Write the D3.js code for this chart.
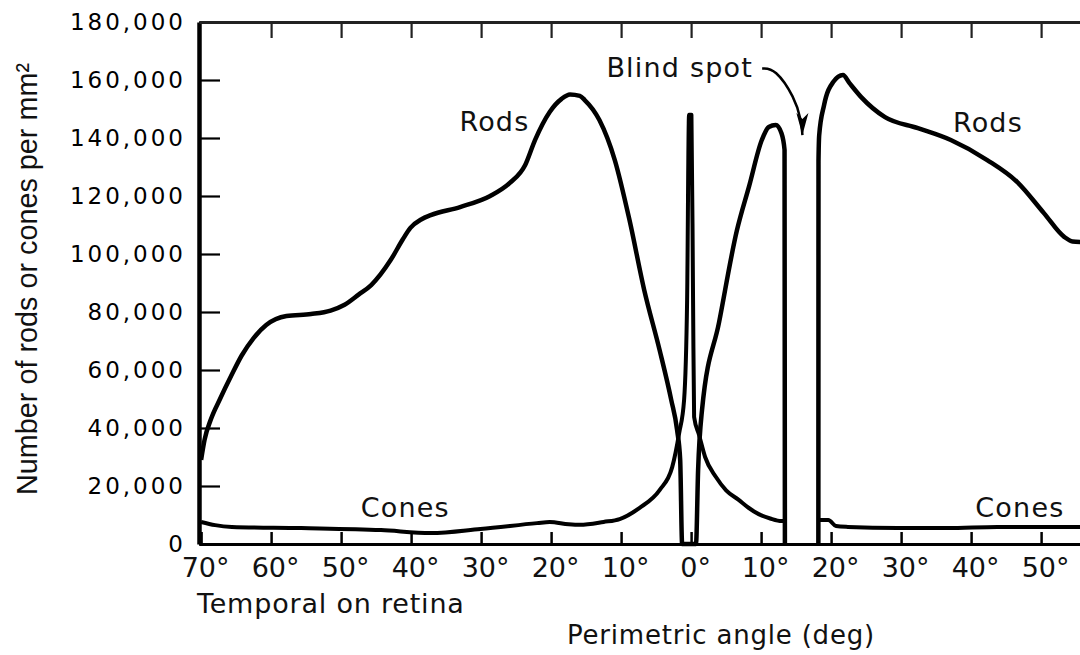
<!DOCTYPE html>
<html>
<head>
<meta charset="utf-8">
<script src="https://cdn.jsdelivr.net/npm/d3@7"></script>
<style>
  html, body { margin: 0; padding: 0; background: #fff; }
  svg { display: block; }
</style>
</head>
<body>
<svg id="chart" width="1080" height="655"></svg>
<script>
// ---- data (perimetric angle: negative = temporal, positive = nasal) ----
const rodsAngle = [-70, -69.5, -68.6, -67.3, -65.7, -64.2, -62.5, -60.7, -57.8, -54.3, -51.5, -49.5, -47.5, -45.7,
  -42.9, -41.2, -40.1, -38.5, -37.2, -33.0, -28.7, -25.9, -23.7, -22.3, -20.2, -18.5, -17.3, -15.9, -15.2, -13.1,
  -10.9, -8.8, -6.7, -4.5, -2.84, -2.0, -1.56, -1.28,
  0.7, 1.0, 1.56, 4.0, 6.53, 8.3, 10.1, 11.1, 12.1, 12.9, 13.35, 13.4,
  15.8,
  18.18, 18.2, 18.3, 19.0, 20.3, 21.7, 22.6, 24.3, 27.7, 32.4, 37.1, 42.3, 46.6, 50.4, 53.3, 54.5, 55.6];
const rodsDensity = [29000, 36000, 43000, 50000, 58000, 65000, 71000, 75500, 78600, 79300, 80500, 82500, 86000, 89300,
  98000, 105000, 109000, 112000, 113400, 116200, 120000, 124500, 130700, 139300, 149000, 153500, 155000, 154500, 153100, 146200,
  132400, 111700, 87600, 66900, 49700, 39300, 29000, 0,
  0, 25500, 46200, 76500, 108000, 123500, 139300, 143800, 144500, 141700, 135900, 0,
  null,
  0, 132000, 141000, 151400, 159300, 161700, 159000, 154100, 147200, 143400, 139300, 132400, 124800, 114100, 105900, 104300, 104100];

const conesAngle = [-70, -68, -65.6, -55.7, -44.3, -37.2, -30.1, -22, -20.2, -17.5, -15.9, -12.5, -10.2, -7.4, -4.5,
  -2.7, -1.7, -1.0, -0.57, -0.3, 0.05, 0.28, 0.43, 1.14, 2.0, 3.55, 5.0, 6.8, 8.2, 9.66, 11.3, 12.93, 13.35,
  15.8,
  18.2, 19.6, 20.7, 22.4, 29.5, 36.6, 43.75, 55.6];
const conesDensity = [7600, 6500, 5900, 5500, 4800, 3800, 5200, 7200, 7600, 6800, 6600, 7600, 8600, 12400, 18600,
  26500, 38300, 49700, 84000, 148000, 148000, 84000, 43800, 37600, 30000, 23100, 18500, 15200, 12500, 10300, 8800, 7900, 7900,
  null,
  8300, 8300, 6200, 5900, 5500, 5500, 5900, 5900];

const xTickValues = [-70, -60, -50, -40, -30, -20, -10, 0, 10, 20, 30, 40, 50];
const xTickLabels = ["70°", "60°", "50°", "40°", "30°", "20°", "10°", "0°", "10°", "20°", "30°", "40°", "50°"];
const yTickValues = [0, 20000, 40000, 60000, 80000, 100000, 120000, 140000, 160000, 180000];
const yTickLabels = ["0", "20,000", "40,000", "60,000", "80,000", "100,000", "120,000", "140,000", "160,000", "180,000"];

const curveLabels = ["Rods", "Rods", "Cones", "Cones", "Blind spot"];
const curveLabelAngle = [-33.1, 37.4, -47.2, 40.6, -12.1];
const curveLabelValue = [142400, 142000, 9300, 9300, 161000];

const arrowAngle = [10.15, 12.0, 14.8, 15.75, 15.9];
const arrowValue = [164000, 164000, 154000, 146000, 141000];

// ---- layout ----
const svg = d3.select("#chart");
const x = d3.scaleLinear().domain([-70.3, 60]).range([199, 199 + 130.3 * 7.0]);
const y = d3.scaleLinear().domain([0, 180000]).range([544, 22]);
const FONT = "'DejaVu Sans', sans-serif";

// axes
const gLeft = svg.append("g").attr("transform", `translate(${x(-70.3)},0)`)
  .call(d3.axisLeft(y).tickValues(yTickValues).tickFormat((d, i) => yTickLabels[i])
    .tickSizeInner(-21).tickSizeOuter(0).tickPadding(13));
gLeft.select(".domain").attr("stroke", "#000").attr("stroke-width", 4.5);
gLeft.selectAll(".tick line").attr("stroke", "#000").attr("stroke-width", 2.2);
gLeft.selectAll(".tick text").attr("font-family", FONT).attr("font-size", 23)
  .attr("letter-spacing", 3).attr("fill", "#000");

const gBottom = svg.append("g").attr("transform", `translate(0,${y(0)})`)
  .call(d3.axisBottom(x).tickValues(xTickValues).tickFormat((d, i) => xTickLabels[i])
    .tickSizeInner(-12).tickSizeOuter(0).tickPadding(14));
gBottom.select(".domain").attr("stroke", "#000").attr("stroke-width", 3);
gBottom.selectAll(".tick line").attr("stroke", "#000").attr("stroke-width", 2.5);
gBottom.selectAll(".tick text").attr("font-family", FONT).attr("font-size", 27)
  .attr("dx", 4).attr("fill", "#111");

const gTop = svg.append("g").attr("transform", `translate(0,${y(180000)})`)
  .call(d3.axisTop(x).tickValues(xTickValues.slice(1)).tickFormat("")
    .tickSizeInner(-16).tickSizeOuter(0));
gTop.select(".domain").attr("stroke", "#222").attr("stroke-width", 3);
gTop.selectAll(".tick line").attr("stroke", "#222").attr("stroke-width", 2.2);

// curves
const line = d3.line()
  .defined(d => d.v !== null)
  .x(d => x(d.a)).y(d => y(d.v))
  .curve(d3.curveMonotoneX);

const rods = rodsAngle.map((a, i) => ({ a, v: rodsDensity[i] }));
const cones = conesAngle.map((a, i) => ({ a, v: conesDensity[i] }));

svg.append("path").datum(cones).attr("d", line)
  .attr("fill", "none").attr("stroke", "#000").attr("stroke-width", 4)
  .attr("stroke-linejoin", "round");
svg.append("path").datum(rods).attr("d", line)
  .attr("fill", "none").attr("stroke", "#000").attr("stroke-width", 4.5)
  .attr("stroke-linejoin", "round");

// labels on the curves
svg.append("g").selectAll("text").data(curveLabels).join("text")
  .attr("x", (d, i) => x(curveLabelAngle[i]))
  .attr("y", (d, i) => y(curveLabelValue[i]))
  .attr("font-family", FONT).attr("font-size", 27)
  .attr("letter-spacing", 1.2).attr("fill", "#111")
  .text(d => d);

// blind spot arrow
const arrowPts = arrowAngle.map((a, i) => ({ a, v: arrowValue[i] }));
const arrowLine = d3.line().x(d => x(d.a)).y(d => y(d.v)).curve(d3.curveBasis);
svg.append("path").datum(arrowPts).attr("d", arrowLine)
  .attr("fill", "none").attr("stroke", "#000").attr("stroke-width", 2.5);
const tip = arrowPts[arrowPts.length - 1];
svg.append("path")
  .attr("transform", `translate(${x(tip.a)},${y(tip.v)})`)
  .attr("d", "M-6,-22 L0,0 L6,-22 L0,-16 Z").attr("fill", "#000");

// axis titles
svg.append("text")
  .attr("transform", "translate(37,495) rotate(-90)")
  .attr("font-family", "'Liberation Sans', Arial, sans-serif").attr("font-size", 30)
  .attr("textLength", 432).attr("lengthAdjust", "spacingAndGlyphs")
  .attr("fill", "#111")
  .text("Number of rods or cones per mm²");

svg.append("text")
  .attr("x", 197).attr("y", 613)
  .attr("font-family", FONT).attr("font-size", 27).attr("letter-spacing", 0.8)
  .attr("fill", "#111")
  .text("Temporal on retina");

svg.append("text")
  .attr("x", 567).attr("y", 644)
  .attr("font-family", FONT).attr("font-size", 26).attr("letter-spacing", 0.8)
  .attr("fill", "#111")
  .text("Perimetric angle (deg)");
</script>
</body>
</html>
